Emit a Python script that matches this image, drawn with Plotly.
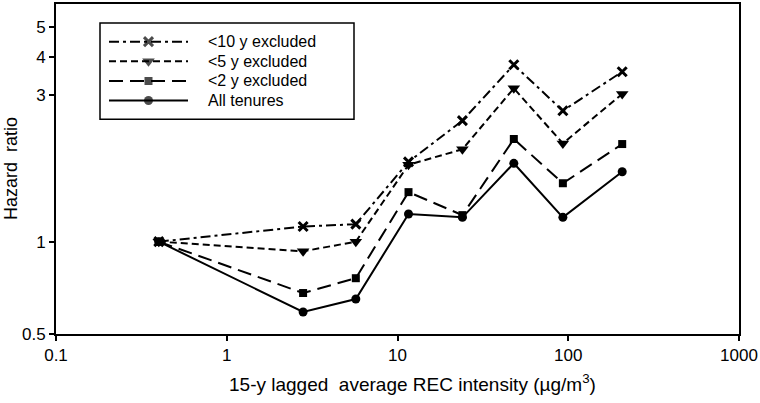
import plotly.graph_objects as go
import math

# ---- data ----
rec_intensity = [0.4, 2.8, 5.7, 11.6, 24, 48, 93, 207]
hr_excl10 = [1.0, 1.12, 1.14, 1.82, 2.48, 3.77, 2.67, 3.58]
hr_excl5 = [1.0, 0.93, 1.0, 1.78, 2.0, 3.16, 2.09, 3.03]
hr_excl2 = [1.0, 0.68, 0.76, 1.45, 1.22, 2.16, 1.55, 2.08]
hr_all = [1.0, 0.59, 0.65, 1.23, 1.20, 1.80, 1.20, 1.69]
series_names = ["<10 y excluded", "<5 y excluded", "<2 y excluded", "All tenures"]
x_ticks = [0.1, 1, 10, 100, 1000]
x_ticklabels = ["0.1", "1", "10", "100", "1000"]
y_ticks = [0.5, 1, 3, 4, 5]
y_ticklabels = ["0.5", "1", "3", "4", "5"]

# ---- styles ----
W, H = 760, 403
ML, MR, MT, MB = 56, 21, 2, 69
PW, PH = W - ML - MR, H - MT - MB


def px(xp):
    return (xp - ML) / PW


def py(yp):
    return (H - MB - yp) / PH


styles = [
    dict(dash="10px,4px,3px,4px", symbol="x-thin", size=9, mline=3),
    dict(dash="7px,4px", symbol="triangle-down", size=11, mline=0),
    dict(dash="14px,7px", symbol="square", size=8, mline=0),
    dict(dash="solid", symbol="circle", size=9, mline=0),
]
series = [hr_excl10, hr_excl5, hr_excl2, hr_all]
FONT = "Liberation Sans, Arial, sans-serif"
NARROW = "Liberation Sans Narrow, Arial Narrow, Liberation Sans, sans-serif"

fig = go.Figure()
for name, ys, st in zip(series_names, series, styles):
    fig.add_trace(go.Scatter(
        x=rec_intensity, y=ys, mode="lines+markers", name=name,
        line=dict(color="black", width=2, dash=st["dash"]),
        marker=dict(symbol=st["symbol"], size=st["size"], color="black",
                    line=dict(color="black", width=st["mline"])),
        showlegend=False,
    ))

# ---- custom legend (samples drawn on an overlay axis) ----
rows = [3, 2, 1, 0]
for name, st, r in zip(series_names, styles, rows):
    fig.add_trace(go.Scatter(
        x=[0, 0.5, 1], y=[r, r, r], mode="lines+markers",
        xaxis="x2", yaxis="y2",
        line=dict(color="black", width=2, dash=st["dash"]),
        marker=dict(symbol=st["symbol"], size=[0, st["size"], 0], color="black",
                    line=dict(color="black", width=st["mline"])),
        showlegend=False, hoverinfo="skip",
    ))
    fig.add_annotation(
        x=px(206), xref="paper", y=r, yref="y2", text=name, showarrow=False,
        xanchor="left", yanchor="middle", font=dict(family=FONT, size=16, color="black"),
    )

fig.add_shape(type="rect", xref="paper", yref="paper",
              x0=px(100), x1=px(354), y0=py(118), y1=py(21),
              line=dict(color="black", width=1.5), fillcolor="rgba(0,0,0,0)")

# ---- axis titles ----
fig.add_annotation(
    x=px(412), xref="paper", y=py(397), yref="paper", yanchor="bottom",
    text="15-y lagged  average REC intensity (\u00b5g/m<sup>3</sup>)",
    showarrow=False, font=dict(family=NARROW, size=19, color="black"),
)
fig.add_annotation(
    x=px(11), xref="paper", y=0.5, yref="paper", textangle=-90,
    text="Hazard  ratio", showarrow=False, xanchor="center", yanchor="middle",
    font=dict(family=FONT, size=18, color="black"),
)

fig.update_layout(
    width=W, height=H,
    margin=dict(l=ML, r=MR, t=MT, b=MB),
    paper_bgcolor="white", plot_bgcolor="white",
    font=dict(family=FONT, size=17, color="black"),
    xaxis=dict(
        type="log", range=[-1, 3], tickvals=x_ticks, ticktext=x_ticklabels,
        showgrid=False, zeroline=False, showline=True, linecolor="black", linewidth=1.8,
        mirror=True, ticks="outside", ticklen=5, tickwidth=1.5, tickcolor="black",
        tickfont=dict(size=17),
    ),
    yaxis=dict(
        type="log", range=[math.log10(0.5), math.log10(5.95)], tickvals=y_ticks,
        ticktext=y_ticklabels,
        showgrid=False, zeroline=False, showline=True, linecolor="black", linewidth=1.8,
        mirror=True, ticks="outside", ticklen=5, tickwidth=1.5, tickcolor="black",
        tickfont=dict(size=17),
    ),
    xaxis2=dict(domain=[px(109), px(188)], range=[0, 1], visible=False,
                anchor="y2", fixedrange=True),
    yaxis2=dict(domain=[py(109), py(30)], range=[-0.5, 3.5], visible=False,
                anchor="x2", fixedrange=True),
    showlegend=False,
)

fig.write_html("out.html", config={"displayModeBar": False})

# remove the browser's default page margin so the figure fills the window exactly
with open("out.html", encoding="utf-8") as f:
    html = f.read()
html = html.replace("<head>", "<head><style>html,body{margin:0;padding:0;overflow:hidden;}</style>", 1)
with open("out.html", "w", encoding="utf-8") as f:
    f.write(html)
